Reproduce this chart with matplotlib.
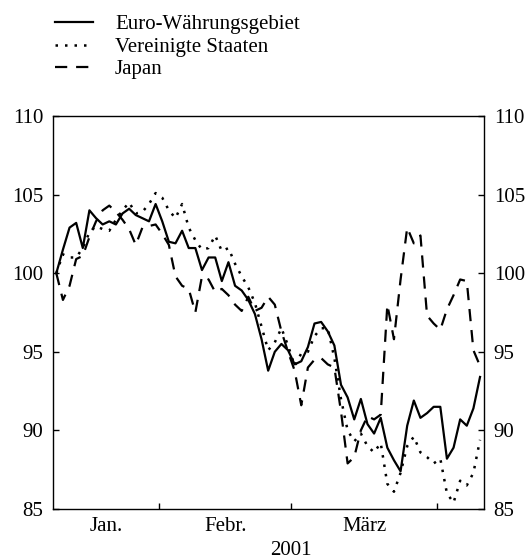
import matplotlib
matplotlib.use('Agg')
import matplotlib.pyplot as plt
from matplotlib.lines import Line2D
import matplotlib.transforms as mtransforms
import numpy as np
import pandas as pd

plt.rcParams['font.family'] = ['Liberation Serif', 'DejaVu Serif']

# business days from 10 Jan to 10 Apr 2001 (65 values)
days = pd.bdate_range('2001-01-10', '2001-04-10')

euro = [100.0, 101.5, 102.9, 103.2, 101.6, 104.0, 103.5, 103.1, 103.3, 103.1,
        103.8, 104.1, 103.7, 103.5, 103.3, 104.4, 103.3, 102.0, 101.9, 102.7,
        101.6, 101.6, 100.2, 101.0, 101.0, 99.5, 100.7, 99.2, 98.9, 98.3,
        97.4, 95.8, 93.8, 95.0, 95.5, 95.1, 94.2, 94.4, 95.3, 96.8,
        96.9, 96.3, 95.4, 92.9, 92.1, 90.7, 92.0, 90.4, 89.8, 90.8,
        88.9, 88.1, 87.4, 90.3, 91.9, 90.8, 91.1, 91.5, 91.5, 88.2,
        88.9, 90.7, 90.3, 91.4, 93.4]

usa = [100.0, 101.2, 101.0, 101.0, 101.6, 102.6, 103.0, 102.8, 102.7, 103.4,
       104.0, 104.5, 103.8, 103.9, 104.4, 105.1, 104.8, 104.0, 103.5, 104.4,
       102.9, 102.1, 101.5, 101.6, 102.4, 101.4, 101.6, 100.6, 99.8, 99.1,
       98.1, 96.6, 95.1, 95.6, 96.5, 95.4, 94.1, 94.9, 95.0, 96.0,
       96.5, 96.5, 94.6, 92.0, 90.0, 89.3, 89.8, 89.0, 88.6, 89.2,
       86.6, 86.1, 87.3, 89.0, 89.6, 88.6, 88.3, 87.9, 88.2, 86.0,
       85.4, 86.8, 86.5, 87.3, 89.4]

japan = [100.0, 98.3, 99.2, 100.9, 101.1, 102.3, 103.3, 104.0, 104.3, 103.9,
         103.4, 102.8, 101.8, 102.9, 103.0, 103.1, 102.5, 101.8, 99.8, 99.2,
         99.0, 97.5, 99.8, 99.6, 98.8, 99.0, 98.6, 98.0, 97.6, 98.5,
         97.6, 97.8, 98.5, 98.0, 96.3, 95.0, 93.8, 91.6, 94.0, 94.5,
         94.6, 94.2, 94.0, 91.2, 87.9, 88.3, 90.0, 90.9, 90.7, 91.0,
         98.0, 95.8, 99.6, 102.9, 101.9, 102.4, 97.3, 96.8, 96.4, 97.7,
         98.6, 99.6, 99.5, 95.1, 94.1]

labels = ['Euro-Währungsgebiet', 'Vereinigte Staaten', 'Japan']
month_labels = ['Jan.', 'Febr.', 'März']
year_label = '2001'

# month boundaries / month centres on the business-day index
idx = np.arange(len(days))
months = days.month
bounds = [i - 0.5 for i in range(1, len(days)) if months[i] != months[i - 1]]
edges = [-0.5] + bounds
centres = [(edges[k] + edges[k + 1]) / 2 for k in range(len(month_labels))]

W, H = 528, 559
fig = plt.figure(figsize=(W / 100, H / 100), dpi=100)
ax = fig.add_axes([53 / W, 1 - 509 / H, (484 - 53) / W, (509 - 116) / H])

styles = [dict(color='black', lw=1.6, linestyle='-'),
          dict(color='black', lw=1.8, linestyle=(0, (1, 2.8))),
          dict(color='black', lw=1.6, linestyle=(0, (5.5, 4.0)))]

for series, st in zip([euro, usa, japan], styles):
    ax.plot(idx, series, **st)

ax.set_xlim(-0.5, 64.6)
ax.set_ylim(85, 110)
ax.set_yticks(np.arange(85, 111, 5))
ax.set_xticks(bounds)
ax.set_xticklabels([])
ax.set_xticks(centres, minor=True)
ax.set_xticklabels(month_labels, minor=True)

ax.tick_params(axis='y', which='both', direction='in', length=4, width=1,
               left=True, right=True, labelleft=True, labelright=True,
               labelsize=15, pad=7)
ax.tick_params(axis='x', which='major', direction='in', length=4, width=1)
ax.tick_params(axis='x', which='minor', length=0, labelsize=15, pad=6)
for s in ax.spines.values():
    s.set_linewidth(1.0)
    s.set_color('black')

trans = mtransforms.blended_transform_factory(ax.transData, ax.transAxes)
ax.text(bounds[1], -0.106, year_label, transform=trans, ha='center', va='center',
        fontsize=15)

# legend drawn by hand at the top left
rows = [22, 45, 67]
for lab, st, y in zip(labels, styles, rows):
    fig.add_artist(Line2D([55 / W, 93 / W], [1 - y / H, 1 - y / H],
                          transform=fig.transFigure, **st))
    fig.text(115 / W, 1 - (y + 7) / H, lab, fontsize=15, va='baseline', ha='left')

fig.savefig('out.png', dpi=100)
